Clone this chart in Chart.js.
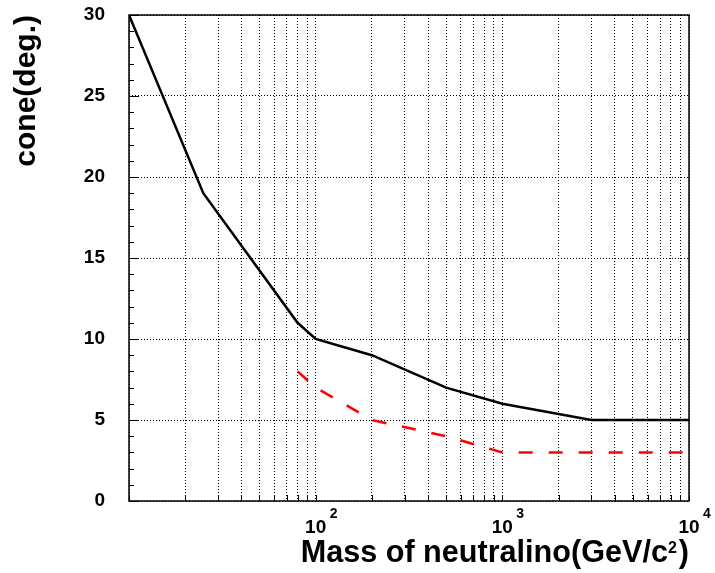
<!DOCTYPE html>
<html>
<head>
<meta charset="utf-8">
<script src="https://cdn.jsdelivr.net/npm/chart.js@4/dist/chart.umd.min.js"></script>
<style>
  html, body { margin: 0; padding: 0; background: #fff; }
  canvas { display: block; }
</style>
</head>
<body>
<canvas id="c" width="715" height="573"></canvas>
<script>
// solid black curve
var massSolid = [10, 25, 80, 100, 200, 500, 1000, 3000, 10000];
var coneSolid = [30, 19, 11, 10, 9, 7, 6, 5, 5];
// dashed red curve
var massDashed = [80, 100, 200, 500, 1000, 3000, 10000];
var coneDashed = [8, 7, 5, 4, 3, 3, 3];

// x grid (log decades) and labelled decades
var xGridValues = [10, 20, 30, 40, 50, 60, 70, 80, 90,
                   100, 200, 300, 400, 500, 600, 700, 800, 900,
                   1000, 2000, 3000, 4000, 5000, 6000, 7000, 8000, 9000, 10000];
var xLabelValues = [100, 1000, 10000];
var xLabelExponents = ["2", "3", "4"];

var FONT = "'Liberation Sans', Arial, Helvetica, sans-serif";

function toPoints(xs, ys) {
  return xs.map(function(x, i) { return { x: x, y: ys[i] }; });
}

// frame + inside ticks, ROOT style
var framePlugin = {
  id: "frame",
  beforeDatasetsDraw: function(chart) {
    var ctx = chart.ctx, a = chart.chartArea;
    var xs = chart.scales.x, ys = chart.scales.y;
    ctx.save();
    ctx.strokeStyle = "#000";
    ctx.lineWidth = 1;
    ctx.beginPath();
    for (var v = ys.min; v <= ys.max; v++) {
      var py = Math.round(ys.getPixelForValue(v)) + 0.5;
      var len = (v % 5 === 0) ? 10 : 5;
      ctx.moveTo(a.left, py);
      ctx.lineTo(a.left + len, py);
    }
    xGridValues.forEach(function(v) {
      var px = Math.round(xs.getPixelForValue(v)) + 0.5;
      ctx.moveTo(px, a.bottom);
      ctx.lineTo(px, a.bottom - 6);
    });
    ctx.stroke();
    ctx.lineWidth = 1.5;
    ctx.strokeRect(a.left, a.top, a.right - a.left, a.bottom - a.top);
    ctx.restore();
  },
  afterDraw: function(chart) {
    var ctx = chart.ctx, xs = chart.scales.x, a = chart.chartArea;
    ctx.save();
    ctx.fillStyle = "#000";
    ctx.textBaseline = "alphabetic";
    // decade labels 10^n
    xLabelValues.forEach(function(v, i) {
      var px = xs.getPixelForValue(v);
      ctx.font = "bold 19px " + FONT;
      ctx.textAlign = "center";
      ctx.fillText("10", px, 533);
      ctx.font = "bold 14px " + FONT;
      ctx.textAlign = "left";
      ctx.fillText(xLabelExponents[i], px + 14, 518);
    });
    // x title with superscript, right aligned to the frame
    ctx.textAlign = "right";
    var xr = a.right;
    ctx.font = "bold 30.6px " + FONT;
    ctx.fillText(")", xr, 562);
    xr -= ctx.measureText(")").width + 2;
    ctx.font = "bold 16px " + FONT;
    ctx.fillText("2", xr, 553);
    xr -= ctx.measureText("2").width;
    ctx.font = "bold 30.6px " + FONT;
    ctx.fillText("Mass of neutralino(GeV/c", xr, 562);
    ctx.restore();
  }
};

var ctx = document.getElementById("c").getContext("2d");
new Chart(ctx, {
  type: "line",
  data: {
    datasets: [
      {
        data: toPoints(massSolid, coneSolid),
        borderColor: "#000",
        borderWidth: 2.5,
        pointRadius: 0,
        tension: 0,
        fill: false
      },
      {
        data: toPoints(massDashed, coneDashed),
        borderColor: "#ff0000",
        borderWidth: 2.5,
        borderDash: [14, 16],
        pointRadius: 0,
        tension: 0,
        fill: false
      }
    ]
  },
  options: {
    responsive: false,
    animation: false,
    devicePixelRatio: 1,
    layout: { padding: { left: 0, top: 15, right: 26, bottom: 0 } },
    plugins: { legend: { display: false }, tooltip: { enabled: false } },
    scales: {
      x: {
        type: "logarithmic",
        min: 10,
        max: 10000,
        afterBuildTicks: function(s) {
          s.ticks = xGridValues.map(function(v) { return { value: v }; });
        },
        afterFit: function(s) {
          s.height = 72;
          s.paddingLeft = 0; s.paddingRight = 0;
        },
        ticks: { display: false },
        grid: { color: "#000", lineWidth: 1, drawTicks: false, borderDash: [1, 2] },
        border: { display: false, dash: [1, 2] },
        title: { display: false }
      },
      y: {
        min: 0,
        max: 30,
        afterFit: function(s) {
          s.width = 129;
          s.paddingTop = 0; s.paddingBottom = 0;
        },
        ticks: {
          stepSize: 5,
          padding: 24,
          color: "#000",
          font: { family: FONT, size: 19, weight: "bold" }
        },
        grid: { color: "#000", lineWidth: 1, drawTicks: false, borderDash: [1, 2] },
        border: { display: false, dash: [1, 2] },
        title: {
          display: true,
          text: "cone(deg.)",
          align: "end",
          color: "#000",
          font: { family: FONT, size: 30, weight: "bold" },
          padding: { top: 9, bottom: 0 }
        }
      }
    }
  },
  plugins: [framePlugin]
});
</script>
</body>
</html>
